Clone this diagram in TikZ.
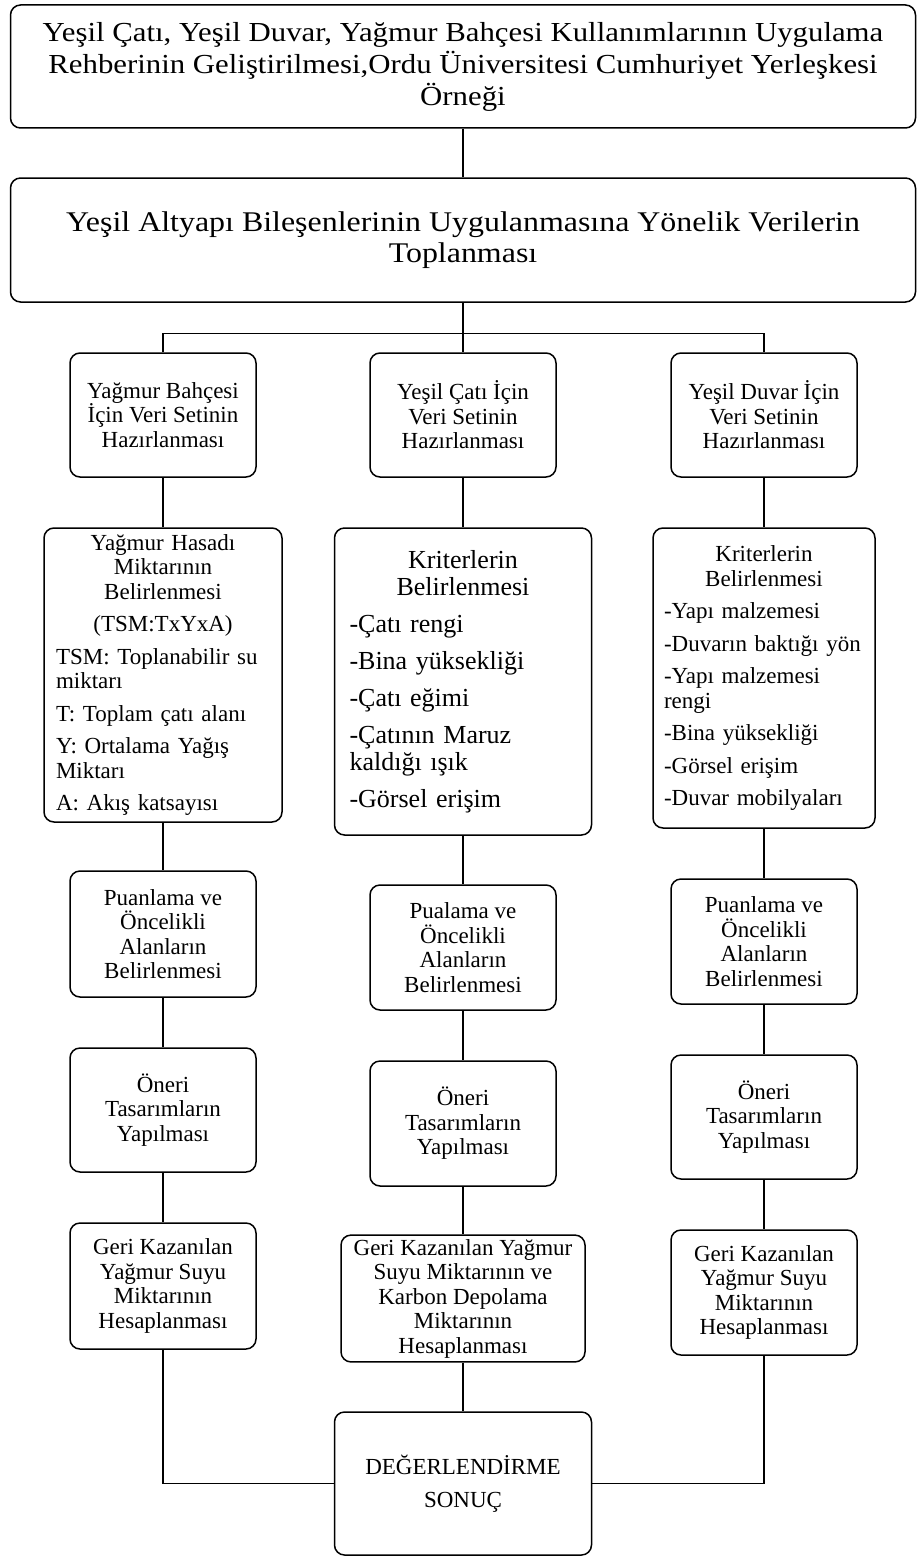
\documentclass[tikz,border=0pt]{standalone}
\usepackage{fontspec}
\setmainfont{Liberation Serif}
\newfontfamily\widefont[FakeStretch=1.12]{Liberation Serif}
\usepackage{tikz}
\usetikzlibrary{positioning, calc}

\begin{document}
\begin{tikzpicture}[x=1pt, y=-1pt,
  stage/.style={draw, line width=1.5pt, rounded corners=10pt, align=center, inner sep=4pt, font=\fontsize{23}{24.5}\selectfont},
  small/.style={stage, minimum width=186pt, minimum height=124pt},
  wide/.style={stage, minimum width=905pt, minimum height=123pt, font=\widefont\fontsize{27.5}{32}\selectfont},
  link/.style={line width=1.1pt}
]
  \useasboundingbox (0,0) rectangle (917,1560);

  % baslik ve veri toplama
  \node[wide] (title) at (463, 66.5) {Yeşil Çatı, Yeşil Duvar, Yağmur Bahçesi Kullanımlarının Uygulama\\Rehberinin Geliştirilmesi,Ordu Üniversitesi Cumhuriyet Yerleşkesi\\Örneği};
  \node[wide, minimum height=124pt, font=\widefont\fontsize{28.5}{31}\selectfont] (collect) at (463, 240) {Yeşil Altyapı Bileşenlerinin Uygulanmasına Yönelik Verilerin\\Toplanması};

  % veri setleri
  \node[small] (set1) at (163, 415) {Yağmur Bahçesi\\İçin Veri Setinin\\Hazırlanması};
  \node[small] (set2) at (463, 415) {Yeşil Çatı İçin\\Veri Setinin\\Hazırlanması};
  \node[small] (set3) at (764, 415) {Yeşil Duvar İçin\\Veri Setinin\\Hazırlanması};

  % kriterler
  \node[stage, align=left, text width=214pt, minimum width=238pt, minimum height=294pt] (crit1) at (163, 675) {
    \centering Yağmur Hasadı\\Miktarının\\Belirlenmesi\\[8pt](TSM:TxYxA)\par\vspace{8pt}
    \raggedright TSM: Toplanabilir su\\miktarı\\[8pt]
    T: Toplam çatı alanı\\[8pt]
    Y: Ortalama Yağış\\Miktarı\\[8pt]
    A: Akış katsayısı
  };
  \node[stage, align=left, text width=227pt, minimum width=257pt, minimum height=307pt, font=\fontsize{26}{27}\selectfont] (crit2) at (463, 681.5) {
    \centering Kriterlerin\\Belirlenmesi\par\vspace{10pt}
    \raggedright -Çatı rengi\\[10pt]
    -Bina yüksekliği\\[10pt]
    -Çatı eğimi\\[10pt]
    -Çatının Maruz\\kaldığı ışık\\[10pt]
    -Görsel erişim
  };
  \node[stage, align=left, text width=200pt, minimum width=222pt, minimum height=300pt] (crit3) at (764, 678) {
    \centering Kriterlerin\\Belirlenmesi\par\vspace{8pt}
    \raggedright -Yapı malzemesi\\[8pt]
    -Duvarın baktığı yön\\[8pt]
    -Yapı malzemesi\\rengi\\[8pt]
    -Bina yüksekliği\\[8pt]
    -Görsel erişim\\[8pt]
    -Duvar mobilyaları
  };

  % puanlama
  \node[small, minimum height=126pt] (score1) at (163, 934) {Puanlama ve\\Öncelikli\\Alanların\\Belirlenmesi};
  \node[small, minimum height=125pt] (score2) at (463, 947.5) {Pualama ve\\Öncelikli\\Alanların\\Belirlenmesi};
  \node[small, minimum height=125pt] (score3) at (764, 941.5) {Puanlama ve\\Öncelikli\\Alanların\\Belirlenmesi};

  % oneri tasarimlar
  \node[small] (design1) at (163, 1110) {Öneri\\Tasarımların\\Yapılması};
  \node[small, minimum height=125pt] (design2) at (463, 1123.5) {Öneri\\Tasarımların\\Yapılması};
  \node[small] (design3) at (764, 1117) {Öneri\\Tasarımların\\Yapılması};

  % hesaplama
  \node[small, minimum height=126pt] (calc1) at (163, 1286) {Geri Kazanılan\\Yağmur Suyu\\Miktarının\\Hesaplanması};
  \node[small, minimum width=244pt, minimum height=125pt] (calc2) at (463, 1298.5) {Geri Kazanılan Yağmur\\Suyu Miktarının ve\\Karbon Depolama\\Miktarının\\Hesaplanması};
  \node[small, minimum height=125pt] (calc3) at (764, 1292.5) {Geri Kazanılan\\Yağmur Suyu\\Miktarının\\Hesaplanması};

  \node[stage, minimum width=257pt, minimum height=143pt] (result) at (463, 1483.5) {DEĞERLENDİRME\\[8pt]SONUÇ};

  % baglantilar
  \coordinate (split) at ($(collect.south)+(0,31)$);
  \draw[link] (title.south) -- (collect.north);
  \draw[link] (collect.south) -- (split) -- (set2.north);
  \draw[link] (set1.north) |- (split) -| (set3.north);

  \draw[link] (set1) -- (crit1) -- (score1) -- (design1) -- (calc1);
  \draw[link] (set2) -- (crit2) -- (score2) -- (design2) -- (calc2) -- (result);
  \draw[link] (set3) -- (crit3) -- (score3) -- (design3) -- (calc3);

  \draw[link] (calc1.south) |- (result.west);
  \draw[link] (calc3.south) |- (result.east);
\end{tikzpicture}
\end{document}
